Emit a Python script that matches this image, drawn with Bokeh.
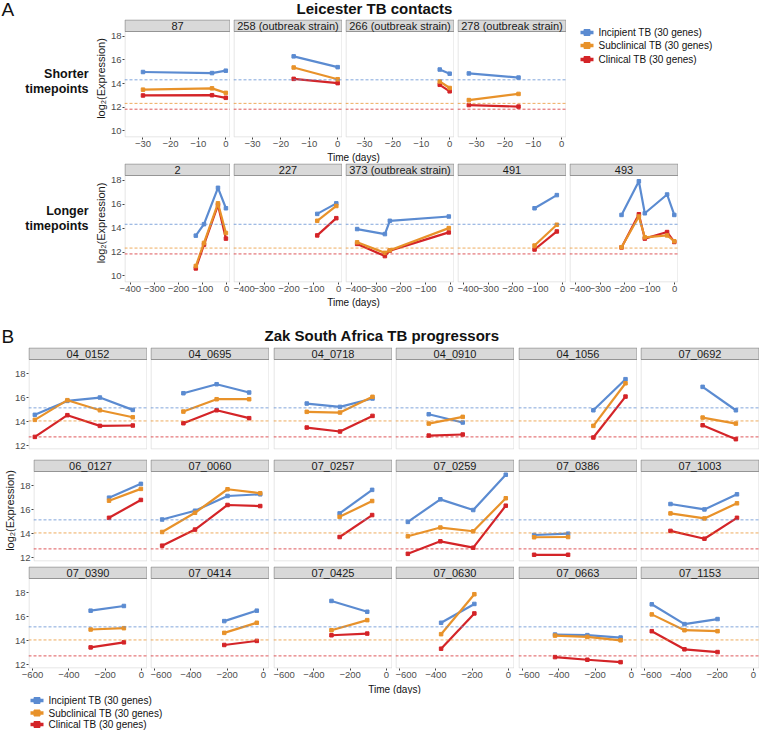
from bokeh.plotting import figure
from bokeh.layouts import column, row
from bokeh.models import Range1d, FixedTicker, Span, Spacer, CustomJSTickFormatter
from bokeh.core.properties import value
from bokeh.embed import file_html
from bokeh.resources import INLINE

FONT = "Liberation Sans"
C_INC = "#5B8BD1"
C_SUB = "#E8922A"
C_CLI = "#D42428"
SERIES_NAMES = ["Incipient TB (30 genes)", "Subclinical TB (30 genes)", "Clinical TB (30 genes)"]

# ---------------- Leicester: shorter timepoints ----------------
A1_PANELS = ["87", "258 (outbreak strain)", "266 (outbreak strain)", "278 (outbreak strain)"]
A1_DAYS = [[-30, -5, 0], [-15.5, 0], [-3.5, 0], [-32.7, -15.2]]
A1_INC = [[14.98, 14.89, 15.09], [16.30, 15.39], [15.19, 14.84], [14.86, 14.51]]
A1_SUB = [[13.49, 13.60, 13.22], [15.36, 14.37], [14.18, 13.63], [12.61, 13.13]]
A1_CLI = [[13.00, 13.02, 12.80], [14.40, 14.04], [13.90, 13.35], [12.19, 12.06]]

# ---------------- Leicester: longer timepoints ----------------
A2_PANELS = ["2", "227", "373 (outbreak strain)", "491", "493"]
A2_DAYS = [[-128, -94, -36, -3], [-86, -9], [-377, -265, -245, -7], [-113, -23],
           [-214, -144, -120, -30, -1]]
A2_INC = [[13.37, 14.33, 17.37, 15.66], [15.19, 16.07], [13.92, 13.50, 14.61, 14.97],
          [15.66, 16.76], [15.10, 17.92, 15.24, 16.81, 15.10]]
A2_SUB = [[10.83, 12.76, 16.07, 13.59], [14.61, 15.85], [12.81, 11.93, 12.15, 14.00],
          [12.54, 14.28], [12.40, 14.97, 13.23, 13.39, 12.90]]
A2_CLI = [[10.63, 12.62, 15.93, 13.12], [13.39, 14.83], [12.68, 11.66, 12.12, 13.64],
          [12.21, 13.72], [12.38, 15.16, 13.12, 13.67, 12.84]]

A_REF = [14.32, 12.33, 11.84]          # incipient, subclinical, clinical
A_YTICKS = [10, 12, 14, 16, 18]
A1_XTICKS = [-30, -20, -10, 0]
A2_XTICKS = [-400, -300, -200, -100, 0]

# ---------------- Zak South Africa progressors ----------------
B_PANELS = ["04_0152", "04_0695", "04_0718", "04_0910", "04_1056", "07_0692",
            "06_0127", "07_0060", "07_0257", "07_0259", "07_0386", "07_1003",
            "07_0390", "07_0414", "07_0425", "07_0630", "07_0663", "07_1153"]
B_DAYS = [[-587, -408, -229, -48], [-441, -258, -79], [-439, -256, -77], [-439, -252],
          [-210, -33], [-280, -97],
          [-188, -5], [-558, -377, -198, -18], [-258, -79], [-554, -375, -194, -15],
          [-536, -349], [-457, -270, -91],
          [-280, -97], [-216, -37], [-303, -106], [-371, -188], [-421, -243, -60],
          [-560, -380, -198]]
B_INC = [[14.56, 15.72, 16.00, 14.97], [16.36, 17.11, 16.42], [15.50, 15.22, 15.92], [14.61, 13.92],
         [14.94, 17.53], [16.89, 14.94],
         [16.99, 18.14], [15.17, 15.90, 17.13, 17.27], [15.68, 17.64], [14.97, 16.85, 15.96, 18.90],
         [13.88, 13.99], [16.46, 16.01, 17.27],
         [16.49, 16.88], [15.62, 16.49], [17.30, 16.40], [15.48, 17.05], [14.50, 14.45, 14.25],
         [17.02, 15.37, 15.79]]
B_SUB = [[14.14, 15.78, 14.94, 14.36], [14.83, 15.86, 15.86], [14.81, 14.75, 16.06], [13.83, 14.39],
         [13.64, 17.19], [14.33, 13.83],
         [16.74, 17.72], [14.13, 15.73, 17.69, 17.36], [15.39, 16.71], [13.77, 14.50, 14.19, 16.94],
         [13.69, 13.71], [15.68, 15.26, 16.52],
         [14.92, 15.03], [14.64, 15.48], [14.86, 15.70], [14.53, 17.86], [14.41, 14.30, 14.02],
         [16.18, 14.86, 14.78]]
B_CLI = [[12.72, 14.53, 13.64, 13.67], [13.86, 14.94, 14.28], [13.50, 13.17, 14.47], [12.83, 12.92],
         [12.67, 16.08], [13.69, 12.53],
         [15.31, 16.80], [12.99, 14.33, 16.38, 16.29], [13.71, 15.54], [12.31, 13.35, 12.82, 16.32],
         [12.23, 12.23], [14.22, 13.57, 15.31],
         [13.43, 13.85], [13.63, 13.97], [14.44, 14.58], [13.32, 16.26], [12.62, 12.40, 12.20],
         [14.78, 13.27, 13.04]]

B_REF = [15.14, 14.05, 12.72]
B_YTICKS = [12, 14, 16, 18]
B_XTICKS = [-600, -400, -200, 0]

COLORS = [C_INC, C_SUB, C_CLI]
TICK_FMT = "return tick < 0 ? '\\u2212' + Math.abs(tick) : String(tick);"
AX_BOTTOM = 14


def style_axis(ax, ticks):
    ax.ticker = FixedTicker(ticks=ticks)
    ax.formatter = CustomJSTickFormatter(code=TICK_FMT)
    ax.axis_line_color = None
    ax.major_tick_line_color = "#444444"
    ax.major_tick_in = 0
    ax.major_tick_out = 2
    ax.minor_tick_line_color = None
    ax.major_label_text_font = FONT
    ax.major_label_text_font_size = "9.5px"
    ax.major_label_text_color = "#4D4D4D"
    ax.major_label_standoff = 1


def make_panel(label, days, inc, sub, cli, xr, yr, xticks, yticks, refs,
               plot_w, plot_h, strip_h, left_border, bottom_border, show_x, ylabel=None):
    x0, x1 = xr
    y0, y1 = yr
    ytop = y1 + strip_h * (y1 - y0) / plot_h
    px = (x1 - x0) / plot_w
    py = (y1 - y0) / plot_h
    p = figure(width=plot_w + left_border, height=strip_h + plot_h + bottom_border,
               x_range=Range1d(x0, x1), y_range=Range1d(y0, ytop),
               x_axis_location="below" if show_x else None,
               y_axis_location="left" if left_border else None,
               min_border_left=left_border, min_border_right=0,
               min_border_top=0, min_border_bottom=bottom_border,
               toolbar_location=None, output_backend="svg")
    p.outline_line_color = None
    p.xgrid.grid_line_color = None
    p.ygrid.grid_line_color = None
    # panel border
    p.quad(left=x0 + 0.5 * px, right=x1 - 0.5 * px, bottom=y0 + 0.5 * py, top=y1,
           fill_color=None, line_color="#DDDDDD", line_width=1)
    # strip
    p.quad(left=x0 + 0.5 * px, right=x1 - 0.5 * px, bottom=y1, top=ytop - 0.5 * py,
           fill_color="#D9D9D9", line_color="#959595", line_width=1)
    p.text(x=[(x0 + x1) / 2], y=[(y1 + ytop) / 2], text=[label], text_align="center",
           text_baseline="middle", text_font=value(FONT), text_font_size="11px",
           text_color="#1A1A1A")
    for v, c in zip(refs, COLORS):
        p.add_layout(Span(location=v, dimension="width", line_color=c, line_width=0.9,
                          line_dash="3 2", line_alpha=0.85))
    for vals, c in [(inc, C_INC), (cli, C_CLI), (sub, C_SUB)]:
        p.line(days, vals, line_color=c, line_width=2.2)
        p.scatter(days, vals, marker="square", size=3.5, fill_color=c, line_color=c)
    if show_x:
        style_axis(p.xaxis[0], xticks)
    if left_border:
        ya = p.yaxis[0]
        style_axis(ya, yticks)
        if ylabel:
            ya.axis_label = ylabel
            ya.axis_label_text_font = FONT
            ya.axis_label_text_font_size = "11px"
            ya.axis_label_text_font_style = "normal"
            ya.axis_label_text_color = "#1A1A1A"
            ya.axis_label_standoff = 1
    return p


def text_fig(w, h, items, bottom=0):
    # y data = h - (pixels from the top); the frame ends `bottom` px above the canvas edge
    p = figure(width=w, height=h, x_range=Range1d(0, w), y_range=Range1d(bottom, h),
               min_border_left=0, min_border_right=0, min_border_top=0, min_border_bottom=bottom,
               x_axis_location=None, y_axis_location=None,
               toolbar_location=None, output_backend="svg")
    p.outline_line_color = None
    p.xgrid.grid_line_color = None
    p.ygrid.grid_line_color = None
    for (x, y, txt, size, style, align) in items:
        p.text(x=[x], y=[h - y], text=[txt], text_font=value(FONT), text_font_size=size,
               text_font_style=style, text_align=align, text_baseline="middle",
               text_color="#111111")
    return p


def legend_fig(w, h, kx, tx, ys, bottom=0):
    p = text_fig(w, h, [(tx, y, name, "10px", "normal", "left")
                        for y, name in zip(ys, SERIES_NAMES)], bottom)
    for y, c in zip(ys, COLORS):
        p.line([kx, kx + 13], [h - y, h - y], line_color=c, line_width=3.5)
        p.scatter([kx + 6.5], [h - y], marker="square", size=6, fill_color=c, line_color=c)
    return p


def panel_row(panels, days, inc, sub, cli, xr, yr, xticks, yticks, refs,
              plot_w, plot_h, strip_h, left_border, bottom_border, show_x, gaps, ylabel=None):
    items = []
    for i, lab in enumerate(panels):
        if i > 0:
            items.append(Spacer(width=gaps[i - 1], height=1))
        items.append(make_panel(lab, days[i], inc[i], sub[i], cli[i], xr, yr, xticks, yticks,
                                refs, plot_w, plot_h, strip_h,
                                left_border if i == 0 else 0, bottom_border, show_x,
                                ylabel if i == 0 else None))
    return items


YLAB = "log\u2082(Expression)"
A_GAPS = [3, 3, 3, 3]
B_GAPS = [3, 4, 3, 4, 3]

# ---- Section A ----
a_header = text_fig(758, 19, [(1, 8.5, "A", "19px", "normal", "left"),
                              (374, 7.5, "Leicester TB contacts", "15px", "bold", "center")])
a_left1 = text_fig(91, 132, [(88, 54, "Shorter", "12.5px", "bold", "right"),
                             (88, 69, "timepoints", "12.5px", "bold", "right")], AX_BOTTOM)
a_row1 = panel_row(A1_PANELS, A1_DAYS, A1_INC, A1_SUB, A1_CLI, (-36.7, 1.7), (9.45, 18.4),
                   A1_XTICKS, A_YTICKS, A_REF, 109, 106, 12, 30, AX_BOTTOM, True, A_GAPS, YLAB)
a_leg = legend_fig(190, 132, 14, 32, [13, 26, 40], AX_BOTTOM)
a_xt1 = text_fig(758, 12, [(353, 6, "Time (days)", "10px", "normal", "center")])
a_left2 = text_fig(91, 133, [(88, 47.7, "Longer", "12.5px", "bold", "right"),
                             (88, 62.7, "timepoints", "12.5px", "bold", "right")], AX_BOTTOM)
a_row2 = panel_row(A2_PANELS, A2_DAYS, A2_INC, A2_SUB, A2_CLI, (-424, 16), (9.45, 18.4),
                   A2_XTICKS, A_YTICKS, A_REF, 109, 107, 12, 30, AX_BOTTOM, True, A_GAPS, YLAB)
a_xt2 = text_fig(758, 12, [(353, 6, "Time (days)", "10px", "normal", "center")])

# ---- Section B ----
b_header = text_fig(758, 39, [(1, 27.5, "B", "19px", "normal", "left"),
                              (381.5, 26.5, "Zak South Africa TB progressors", "15px", "bold",
                               "center")])
b_rows = []
for r in range(3):
    sl = slice(6 * r, 6 * r + 6)
    b_rows.append(row(panel_row(B_PANELS[sl], B_DAYS[sl], B_INC[sl], B_SUB[sl], B_CLI[sl],
                                (-622, 33), (11.67, 19.17), B_XTICKS, B_YTICKS, B_REF,
                                119, 90, 12, 28, AX_BOTTOM if r == 2 else 2, r == 2, B_GAPS,
                                YLAB if r == 1 else None)))
b_xt = text_fig(758, 12, [(394, 6.5, "Time (days)", "10px", "normal", "center")])
b_leg = legend_fig(300, 36, 30, 48, [6, 18.5, 30])

layout = column(
    a_header,
    row(a_left1, *a_row1, a_leg),
    a_xt1,
    row(a_left2, *a_row2),
    a_xt2,
    b_header,
    b_rows[0],
    Spacer(width=1, height=8),
    b_rows[1],
    Spacer(width=1, height=3),
    b_rows[2],
    b_xt,
    b_leg,
)

open("out.html", "w").write(file_html(layout, INLINE))
